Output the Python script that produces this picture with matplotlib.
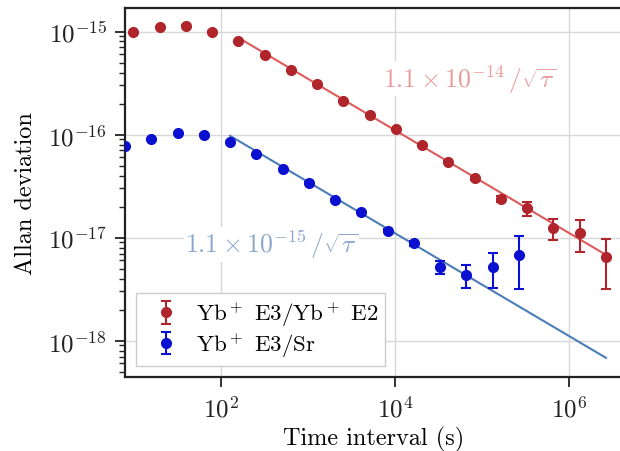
"""Allan deviation of the Yb+ E3 frequency ratios."""

import matplotlib

matplotlib.use("Agg")
import matplotlib.pyplot as plt
import numpy as np
from matplotlib.ticker import LogLocator, NullLocator

plt.rcParams["font.family"] = ["cmr10", "DejaVu Serif"]
plt.rcParams["mathtext.fontset"] = "cm"
plt.rcParams["axes.formatter.use_mathtext"] = True
plt.rcParams["axes.unicode_minus"] = False

# averaging times (s)
tau_e2 = [10, 20, 40, 80, 160, 320, 640, 1280, 2560, 5120, 10240, 20480,
          40960, 81920, 163840, 327680, 655360, 1310720, 2621440]
tau_sr = [8, 16, 32, 64, 128, 256, 512, 1024, 2048, 4096, 8192, 16384,
          32768, 65536, 131072, 262144]

# Yb+ E3 / Yb+ E2
adev_e2 = [9.8e-16, 1.10e-15, 1.14e-15, 1.0e-15, 8.0e-16, 5.95e-16, 4.22e-16,
           3.09e-16, 2.13e-16, 1.56e-16, 1.12e-16, 7.9e-17, 5.45e-17, 3.76e-17,
           2.37e-17, 1.93e-17, 1.23e-17, 1.10e-17, 6.45e-18]
err_e2 = [5e-18, 6e-18, 7e-18, 7e-18, 6e-18, 5e-18, 4e-18, 3e-18, 2.5e-18,
          2e-18, 1.5e-18, 1.2e-18, 1.0e-18, 1.2e-18, 1.5e-18, 3.0e-18,
          2.8e-18, 3.8e-18, 3.3e-18]

# Yb+ E3 / Sr
adev_sr = [7.7e-17, 9.0e-17, 1.03e-16, 1.0e-16, 8.4e-17, 6.45e-17, 4.62e-17,
           3.38e-17, 2.33e-17, 1.78e-17, 1.16e-17, 8.85e-18, 5.2e-18, 4.36e-18,
           5.2e-18, 6.75e-18]
err_sr = [1e-18, 1e-18, 1.2e-18, 1.2e-18, 1e-18, 8e-19, 6e-19, 5e-19, 4e-19,
          4e-19, 4e-19, 5e-19, 7.7e-19, 1.1e-18, 1.95e-18, 3.6e-18]

# white-noise fits  A / sqrt(tau)
fit_e2 = 1.1e-14
fit_sr = 1.1e-15

red_pt, red_ln, red_tx = "#b0252c", "#de5b5b", "#eb9a9a"
blue_pt, blue_ln, blue_tx = "#0a0fd0", "#4a7db8", "#8aa8cf"

fig = plt.figure(figsize=(6.2, 4.52), dpi=100)
ax = fig.add_axes([125 / 620, (452 - 378.3) / 452, 497 / 620, (378.3 - 9.3) / 452])

t = np.array([tau_e2[4], tau_e2[-1]], dtype=float)
ax.plot(t, fit_e2 / np.sqrt(t), color=red_ln, lw=1.5, zorder=2)
t = np.array([tau_sr[4], tau_e2[-1]], dtype=float)
ax.plot(t, fit_sr / np.sqrt(t), color=blue_ln, lw=1.5, zorder=2)

ax.errorbar(tau_e2, adev_e2, yerr=err_e2, fmt="o", color=red_pt, ms=7,
            capsize=3.5, elinewidth=1.5, capthick=1.5, zorder=3,
            label="Yb$^+$ E3/Yb$^+$ E2")
ax.errorbar(tau_sr, adev_sr, yerr=err_sr, fmt="o", color=blue_pt, ms=7,
            capsize=3.5, elinewidth=1.5, capthick=1.5, zorder=3,
            label="Yb$^+$ E3/Sr")

box = dict(facecolor="white", edgecolor="none", pad=1)
ax.text(7.1e4, 3.46e-16, r"$1.1\times10^{-14}\,/\sqrt{\tau}$", color=red_tx,
        fontsize=18.5, ha="center", va="center", bbox=box, zorder=2.5)
ax.text(383, 8.65e-18, r"$1.1\times10^{-15}\,/\sqrt{\tau}$", color=blue_tx,
        fontsize=18.5, ha="center", va="center", bbox=box, zorder=2.5)

ax.set_xscale("log")
ax.set_yscale("log")
ax.set_xlim(8, 4e6)
ax.set_ylim(4.4e-19, 1.68e-15)
ax.set_xticks([1e2, 1e4, 1e6])
ax.xaxis.set_minor_locator(NullLocator())
ax.set_yticks([1e-18, 1e-17, 1e-16, 1e-15])
ax.yaxis.set_minor_locator(LogLocator(base=10, subs=np.arange(2, 10)))
ax.tick_params(which="both", direction="out", labelsize=18, colors="#222222")
ax.tick_params(which="major", length=7, width=1.3, pad=6)
ax.tick_params(which="minor", length=4.5, width=1.0)
ax.tick_params(axis="y", which="minor", labelleft=False)

for s in ax.spines.values():
    s.set_color("#222222")
    s.set_linewidth(1.6)

ax.grid(True, which="major", color="#d8d8d8", lw=1.0)
ax.set_axisbelow(True)

ax.set_xlabel("Time interval (s)", fontsize=17.5, labelpad=3)
ax.set_ylabel("Allan deviation", fontsize=17.5, labelpad=8)

ax.legend(loc="lower left", bbox_to_anchor=(0.022, 0.031), borderaxespad=0,
          fontsize=16.5, fancybox=False, edgecolor="#cccccc", framealpha=1,
          handletextpad=0.3, labelspacing=0.1, borderpad=0.3)

fig.savefig("out.png", dpi=100)
